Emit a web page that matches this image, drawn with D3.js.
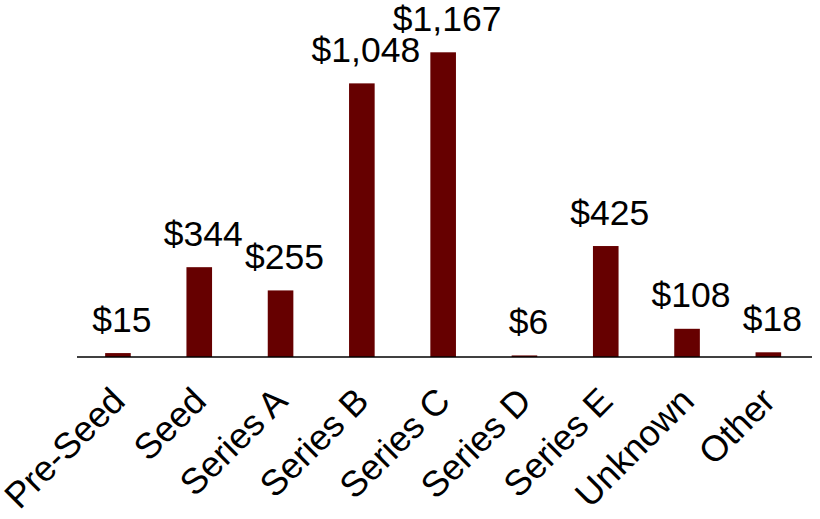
<!DOCTYPE html>
<html><head><meta charset="utf-8">
<script src="https://cdn.jsdelivr.net/npm/d3@7"></script>
<style>body{margin:0;background:#fff;}svg{display:block;}</style>
</head><body>
<svg id="chart" width="820" height="519"></svg>
<script>
const categories = ["Pre-Seed","Seed","Series A","Series B","Series C","Series D","Series E","Unknown","Other"];
const values = [15, 344, 255, 1048, 1167, 6, 425, 108, 18];
const valueLabels = ["$15","$344","$255","$1,048","$1,167","$6","$425","$108","$18"];

const svg = d3.select("#chart");
const x = d3.scaleBand().domain(categories).range([77.3, 809]).paddingInner(0.685).paddingOuter(0.3425);
const y = d3.scaleLinear().domain([0, 1167]).range([357, 52.3]);
const font = "'Liberation Sans', Arial, sans-serif";

svg.append("g").selectAll("rect").data(categories).join("rect")
  .attr("x", d => x(d)).attr("width", x.bandwidth())
  .attr("y", (d,i) => y(values[i])).attr("height", (d,i) => y(0) - y(values[i]))
  .attr("fill", "#660000");

svg.append("line").attr("x1", 77).attr("x2", 812).attr("y1", 357).attr("y2", 357)
  .attr("stroke", "#000").attr("stroke-width", 1.5);

svg.append("g").selectAll("text").data(categories).join("text")
  .attr("x", d => x(d) + x.bandwidth()/2 + 4)
  .attr("y", (d,i) => y(values[i]) - 21.5)
  .attr("text-anchor", "middle")
  .attr("font-family", font).attr("font-size", 35.5).attr("fill", "#000")
  .text((d,i) => valueLabels[i]);

svg.append("g").selectAll("text").data(categories).join("text")
  .attr("transform", d => `translate(${x(d) + x.bandwidth()/2 + 9},403) rotate(-45)`)
  .attr("text-anchor", "end")
  .attr("font-family", font).attr("font-size", 36).attr("fill", "#000")
  .text(d => d);
</script>
</body></html>
